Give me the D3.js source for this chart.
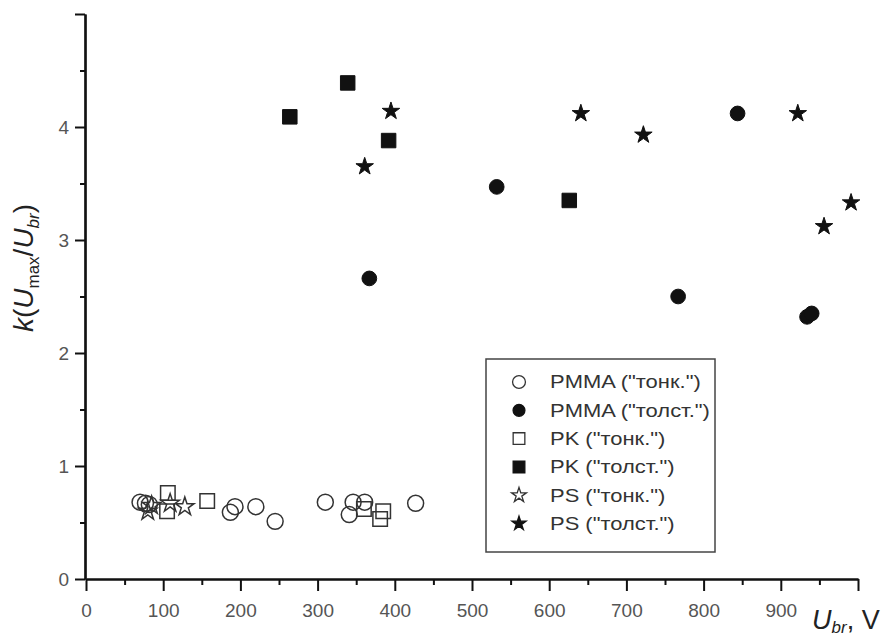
<!DOCTYPE html>
<html>
<head>
<meta charset="utf-8">
<script src="https://cdn.jsdelivr.net/npm/d3@7"></script>
<style>
  body { margin: 0; background: #fff; }
  svg { display: block; font-family: "Liberation Sans", Arial, sans-serif; }
</style>
</head>
<body>
<svg width="887" height="636"></svg>
<script>
// data: [Ubr, k]
var pmmaThin = [[70, 0.68], [77, 0.67], [82, 0.66], [187, 0.59], [193, 0.64], [220, 0.64],
                [245, 0.51], [310, 0.68], [341, 0.57], [346, 0.68], [361, 0.68], [427, 0.67]];
var pmmaThick = [[367, 2.66], [532, 3.47], [767, 2.50], [844, 4.12], [934, 2.32], [940, 2.35]];
var pkThin = [[106, 0.76], [105, 0.60], [157, 0.69], [360, 0.62], [385, 0.60], [381, 0.53]];
var pkThick = [[264, 4.09], [339, 4.39], [392, 3.88], [626, 3.35]];
var psThin = [[80, 0.60], [85, 0.65], [109, 0.67], [128, 0.64]];
var psThick = [[361, 3.65], [395, 4.14], [641, 4.12], [722, 3.93], [922, 4.12], [956, 3.12], [991, 3.33]];

var seriesNames = ['PMMA ("тонк.")', 'PMMA ("толст.")', 'PK ("тонк.")',
                   'PK ("толст.")', 'PS ("тонк.")', 'PS ("толст.")'];
var xTicks = [0, 100, 200, 300, 400, 500, 600, 700, 800, 900];
var yTicks = [0, 1, 2, 3, 4];

var series = [
  { name: seriesNames[0], data: pmmaThin,  shape: d3.symbolCircle, size: 200, filled: false },
  { name: seriesNames[1], data: pmmaThick, shape: d3.symbolCircle, size: 170, filled: true },
  { name: seriesNames[2], data: pkThin,    shape: d3.symbolSquare, size: 210, filled: false },
  { name: seriesNames[3], data: pkThick,   shape: d3.symbolSquare, size: 210, filled: true },
  { name: seriesNames[4], data: psThin,    shape: d3.symbolStar,   size: 105, filled: false },
  { name: seriesNames[5], data: psThick,   shape: d3.symbolStar,   size: 95,  filled: true }
];

var svg = d3.select('svg');

// 0. scales
// ----------------------------------
var x = d3.scaleLinear().domain([0, 1000]).range([86, 858]);
var y = d3.scaleLinear().domain([0, 5]).range([579, 14]);

// 1. axes
// ----------------------------------
var xAxisG = svg.append('g').attr('transform', 'translate(0,' + y(0) + ')');
xAxisG.call(d3.axisBottom(x).tickValues(d3.range(50, 1000, 100)).tickSize(6).tickSizeOuter(0).tickFormat(''));
xAxisG.append('g')
    .call(d3.axisBottom(x).tickValues(d3.range(0, 1001, 100)).tickSize(12).tickSizeOuter(0)
      .tickFormat(function (d) { return xTicks.indexOf(d) >= 0 ? d : ''; }));

var yAxisG = svg.append('g').attr('transform', 'translate(' + (x(0) - 1) + ',0)');
yAxisG.call(d3.axisLeft(y).tickValues(d3.range(0.5, 5, 1)).tickSize(5).tickSizeOuter(0).tickFormat(''));
yAxisG.append('g')
    .call(d3.axisLeft(y).tickValues(d3.range(0, 6, 1)).tickSize(10).tickSizeOuter(0)
      .tickFormat(function (d) { return yTicks.indexOf(d) >= 0 ? d : ''; }));

svg.selectAll('.domain').attr('stroke', '#111').attr('stroke-width', 2.2);
svg.selectAll('.tick line').attr('stroke', '#111').attr('stroke-width', 2);
svg.selectAll('.tick text').attr('fill', '#555').style('font-size', '19px');
xAxisG.selectAll('.tick text').attr('dy', '1.2em');
yAxisG.selectAll('.tick text').attr('dx', '-0.15em');

// axis titles
var xt = svg.append('text').attr('x', 812).attr('y', 629)
    .attr('fill', '#222').style('font-size', '27px');
xt.append('tspan').style('font-style', 'italic').text('U');
xt.append('tspan').style('font-style', 'italic').style('font-size', '17px').attr('dy', 4).text('br');
xt.append('tspan').attr('dy', -4).text(', V');

var yt = svg.append('text')
    .attr('transform', 'translate(33,268) rotate(-90)')
    .attr('text-anchor', 'middle')
    .attr('fill', '#222').style('font-size', '28px');
yt.append('tspan').style('font-style', 'italic').text('k');
yt.append('tspan').text('(');
yt.append('tspan').style('font-style', 'italic').text('U');
yt.append('tspan').style('font-size', '17px').attr('dy', 6).text('max');
yt.append('tspan').attr('dy', -6).text('/');
yt.append('tspan').style('font-style', 'italic').text('U');
yt.append('tspan').style('font-style', 'italic').style('font-size', '17px').attr('dy', 6).text('br');
yt.append('tspan').attr('dy', -6).text(')');

// 2. points
// ----------------------------------
var marks = svg.append('g').classed('marks', true);
series.forEach(function (s) {
  marks.append('g').selectAll('path')
    .data(s.data)
    .enter()
    .append('path')
    .attr('transform', function (d) { return 'translate(' + x(d[0]) + ',' + y(d[1]) + ')'; })
    .attr('d', d3.symbol().type(s.shape).size(s.size))
    .attr('fill', s.filled ? '#111' : 'none')
    .attr('stroke', s.filled ? '#111' : '#333')
    .attr('stroke-width', s.filled ? 1 : 1.5);
});

// 3. legend
// ----------------------------------
var legend = svg.append('g').classed('legend', true);
legend.append('rect')
    .attr('x', 486).attr('y', 359).attr('width', 229).attr('height', 193)
    .attr('fill', '#fff').attr('stroke', '#444').attr('stroke-width', 1.5);

var rows = legend.selectAll('.row')
    .data(series)
    .enter()
    .append('g')
    .classed('row', true)
    .attr('transform', function (d, i) { return 'translate(519,' + (382 + i * 28.3) + ')'; });

rows.append('path')
    .attr('d', function (d) { return d3.symbol().type(d.shape).size(d.size * 0.65)(); })
    .attr('fill', function (d) { return d.filled ? '#111' : 'none'; })
    .attr('stroke', function (d) { return d.filled ? '#111' : '#333'; })
    .attr('stroke-width', 1.3);

// the legend lettering in the picture is wide, so stretch it a little
rows.append('text')
    .attr('transform', 'translate(31,0) scale(1.22,1)')
    .attr('dy', '0.35em')
    .attr('fill', '#333').style('font-size', '18px')
    .text(function (d) { return d.name; });
</script>
</body>
</html>
